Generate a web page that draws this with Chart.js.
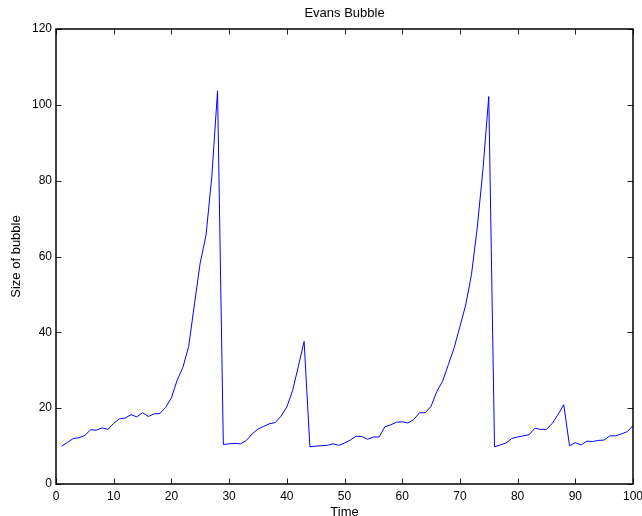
<!DOCTYPE html>
<html>
<head>
<meta charset="utf-8">
<script src="https://cdn.jsdelivr.net/npm/chart.js@4.4.1/dist/chart.umd.min.js"></script>
<style>
  html, body { margin: 0; padding: 0; background: #fff; }
  #wrap { width: 642px; height: 516px; }
</style>
</head>
<body>
<div id="wrap"><canvas id="bubble" width="642" height="516"></canvas></div>
<script>
// time steps (x) and bubble size (y)
const times = [
  1, 2, 3, 4, 5, 6, 7, 8, 9, 10,
  11, 12, 13, 14, 15, 16, 17, 18, 19, 20,
  21, 22, 23, 24, 25, 26, 27, 28, 29, 30,
  31, 32, 33, 34, 35, 36, 37, 38, 39, 40,
  41, 42, 43, 44, 45, 46, 47, 48, 49, 50,
  51, 52, 53, 54, 55, 56, 57, 58, 59, 60,
  61, 62, 63, 64, 65, 66, 67, 68, 69, 70,
  71, 72, 73, 74, 75, 76, 77, 78, 79, 80,
  81, 82, 83, 84, 85, 86, 87, 88, 89, 90,
  91, 92, 93, 94, 95, 96, 97, 98, 99, 100
];
const bubbleSize = [
  10.0, 11.0, 12.0, 12.2, 12.8, 14.3, 14.2, 14.8, 14.4, 16.0,
  17.2, 17.4, 18.3, 17.7, 18.8, 17.8, 18.5, 18.6, 20.2, 22.7,
  27.4, 30.8, 36.3, 47.5, 58.4, 65.6, 81.0, 103.7, 10.4, 10.6,
  10.7, 10.6, 11.5, 13.2, 14.5, 15.2, 15.9, 16.2, 17.9, 20.3,
  24.6, 31.0, 37.6, 9.8, 10.0, 10.1, 10.2, 10.6, 10.2, 10.8,
  11.6, 12.6, 12.5, 11.8, 12.4, 12.4, 15.1, 15.6, 16.3, 16.4,
  16.1, 17.0, 18.8, 18.8, 20.5, 24.4, 27.1, 31.5, 35.9, 41.5,
  47.2, 55.2, 67.5, 83.0, 102.2, 9.8, 10.3, 10.8, 12.0, 12.4,
  12.7, 13.0, 14.7, 14.4, 14.4, 16.0, 18.3, 20.9, 10.1, 10.9,
  10.3, 11.3, 11.2, 11.5, 11.6, 12.7, 12.7, 13.2, 13.8, 15.4
];
const xTicks = [0, 10, 20, 30, 40, 50, 60, 70, 80, 90, 100];
const yTicks = [0, 20, 40, 60, 80, 100, 120];

const FONT = 'Liberation Sans, Arial, Helvetica, sans-serif';

// matlab style box with inward ticks on all four sides
const matlabAxes = {
  id: 'matlabAxes',
  afterDatasetsDraw(chart) {
    const { ctx, chartArea: a, scales: { x, y } } = chart;
    const len = 5.5;
    ctx.save();
    ctx.strokeStyle = '#222';
    ctx.lineWidth = 1;
    ctx.beginPath();
    xTicks.forEach(v => {
      const px = Math.round(x.getPixelForValue(v)) + 0.5;
      ctx.moveTo(px, a.bottom); ctx.lineTo(px, a.bottom - len);
      ctx.moveTo(px, a.top); ctx.lineTo(px, a.top + len);
    });
    yTicks.forEach(v => {
      const py = Math.round(y.getPixelForValue(v)) + 0.5;
      ctx.moveTo(a.left, py); ctx.lineTo(a.left + len, py);
      ctx.moveTo(a.right, py); ctx.lineTo(a.right - len, py);
    });
    ctx.stroke();
    ctx.strokeStyle = '#000';
    ctx.lineWidth = 1.5;
    ctx.strokeRect(a.left, a.top, a.right - a.left, a.bottom - a.top);
    ctx.restore();
  }
};

new Chart(document.getElementById('bubble').getContext('2d'), {
  type: 'line',
  data: {
    datasets: [{
      data: times.map((t, i) => ({ x: t, y: bubbleSize[i] })),
      borderColor: '#0000ff',
      borderWidth: 1,
      pointRadius: 0,
      tension: 0,
      fill: false
    }]
  },
  options: {
    responsive: false,
    animation: false,
    layout: { padding: { left: 0, right: 9, top: 0, bottom: 0 } },
    plugins: {
      legend: { display: false },
      tooltip: { enabled: false },
      title: {
        display: true,
        text: 'Evans Bubble',
        fullSize: false,
        color: '#000',
        font: { family: FONT, size: 13, weight: 'normal' },
        padding: { top: 6, bottom: 7.4 }
      }
    },
    scales: {
      x: {
        type: 'linear',
        min: 0,
        max: 100,
        afterBuildTicks: s => { s.ticks = xTicks.map(v => ({ value: v })); },
        afterFit: s => { s.height = 32; s.paddingLeft = 0; s.paddingRight = 0; },
        grid: { display: false, drawTicks: false },
        border: { display: false },
        ticks: {
          color: '#000',
          font: { family: FONT, size: 12 },
          padding: 5,
          maxRotation: 0,
          autoSkip: false
        },
        title: {
          display: true,
          text: 'Time',
          color: '#000',
          font: { family: FONT, size: 13 },
          padding: { top: 0, bottom: -4 }
        }
      },
      y: {
        min: 0,
        max: 120,
        afterBuildTicks: s => { s.ticks = yTicks.map(v => ({ value: v })); },
        afterFit: s => { s.width = 56; s.paddingTop = 0; s.paddingBottom = 0; },
        grid: { display: false, drawTicks: false },
        border: { display: false },
        ticks: {
          color: '#000',
          font: { family: FONT, size: 12 },
          padding: 4
        },
        title: {
          display: true,
          text: 'Size of bubble',
          color: '#000',
          font: { family: FONT, size: 13 },
          padding: { top: 9, bottom: 0 }
        }
      }
    }
  },
  plugins: [matlabAxes]
});
</script>
</body>
</html>
